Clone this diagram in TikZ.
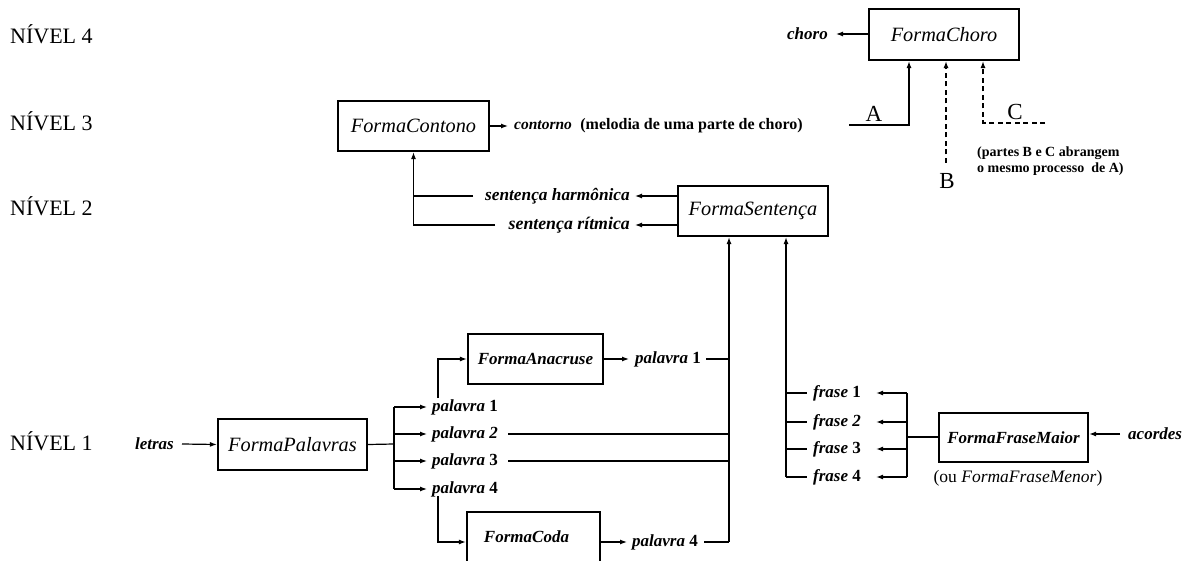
\documentclass[tikz,border=0pt]{standalone}
\usepackage{fontspec}
\setmainfont{Liberation Serif}
\usetikzlibrary{arrows.meta}
\begin{document}
\begin{tikzpicture}[x=1pt,y=-1pt,
  fbox/.style={draw,line width=2.2pt,inner sep=0pt,font=\itshape\fontsize{20.3}{23}\selectfont},
  fboxb/.style={draw,line width=2.2pt,inner sep=0pt,font=\bfseries\itshape\fontsize{17}{19}\selectfont},
  conn/.style={line width=1.2pt},
  arr/.style={conn,-{Latex[length=7pt,width=5pt]}},
  dconn/.style={line width=1.2pt,dash pattern=on 5pt off 3.5pt},
  darr/.style={dconn,-{Latex[length=7pt,width=5pt]}},
  lvl/.style={font=\fontsize{22}{24}\selectfont,inner sep=0pt},
  lbl/.style={font=\bfseries\itshape\fontsize{17}{19}\selectfont,inner sep=0pt},
  big/.style={font=\fontsize{23}{25}\selectfont,inner sep=0pt},
  note/.style={font=\bfseries\fontsize{14}{16}\selectfont,inner sep=0pt,align=left}
]
\useasboundingbox (0,0) rectangle (1192,561);
% level labels
\node[lvl,anchor=west] (n4) at (10,34) {NÍVEL 4};
\node[lvl,anchor=west] (n3) at (10,121) {NÍVEL 3};
\node[lvl,anchor=west] (n2) at (10,206) {NÍVEL 2};
\node[lvl,anchor=west] (n1) at (10,441) {NÍVEL 1};
% level 4
\node[fbox,minimum width=150,minimum height=51] (choro) at (944,34.5) {FormaChoro};
\node[lbl,anchor=east] (chorolbl) at (828,34) {choro};
\draw[arr] (choro.west |- chorolbl) -- ([xshift=8]chorolbl.east);
\coordinate (Aend) at (849,125);
\coordinate (Acor) at (909,125);
\draw[arr] (Aend) -- (Acor) -- (Acor |- choro.south);
\node[big,anchor=base] (A) at (874,122) {A};
\coordinate (Bend) at (946,163);
\draw[darr] (Bend) -- (Bend |- choro.south);
\node[big] (B) at (947,181) {B};
\coordinate (Cend) at (1045,123);
\coordinate (Ccor) at (983,123);
\draw[darr] (Cend) -- (Ccor) -- (Ccor |- choro.south);
\node[big,anchor=base] (C) at (1015,120) {C};
\node[note,anchor=west] (note1) at (977,153) {(partes B e C abrangem};
\node[note,anchor=west] (note2) at (977,169) {o mesmo processo\ \ de A)};
% level 3
\node[fbox,minimum width=151,minimum height=50] (cont) at (413.5,126) {FormaContono};
\node[lbl,anchor=west] (contlbl) at (514,126) {{\fontsize{15.5}{18}\selectfont contorno}\ \ \textup{\fontsize{16}{19}\selectfont(melodia de uma parte de choro)}};
\draw[arr] (cont.east) -- ([xshift=-6]contlbl.west);
% level 2
\node[fbox,minimum width=150,minimum height=50] (sent) at (753,211) {FormaSentença};
\node[lbl,anchor=east,font=\bfseries\itshape\fontsize{17.3}{20}\selectfont] (harm) at (630,196) {sentença harmônica};
\node[lbl,anchor=east,font=\bfseries\itshape\fontsize{17.8}{20}\selectfont] (rit) at (630,225) {sentença rítmica};
\draw[arr] (sent.west |- harm) -- ([xshift=5]harm.east);
\draw[arr] (sent.west |- rit) -- ([xshift=5]rit.east);
\coordinate (harmEnd) at (473,196);
\coordinate (ritEnd) at (495,225);
\draw[conn] (harmEnd) -- (cont.south |- harmEnd);
\draw[arr] (ritEnd) -- (cont.south |- ritEnd) -- (cont.south);
% level 1
\node[fbox,minimum width=149,minimum height=51] (pal) at (292.5,444.5) {FormaPalavras};
\node[lbl,anchor=east] (letras) at (174,444) {letras};
\draw[arr] ([xshift=8]letras.east) -- (pal.west);
\coordinate (bus) at (394,444);
\draw[conn] (pal.east) -- (bus);
\node[lbl,anchor=west] (p1) at (432,407) {palavra\ \textup{1}};
\node[lbl,anchor=west] (p2) at (432,434) {palavra\ 2};
\node[lbl,anchor=west] (p3) at (432,461) {palavra\ \textup{3}};
\node[lbl,anchor=west] (p4) at (432,489) {palavra\ \textup{4}};
\draw[conn] (bus |- p1) -- (bus |- p4);
\foreach \p in {p1,p2,p3,p4} \draw[arr] (bus |- \p) -- ([xshift=-5]\p.west);
% anacruse
\node[fboxb,minimum width=135,minimum height=50] (ana) at (535.5,359) {FormaAnacruse};
\coordinate (anaStart) at (438,398);
\draw[arr] (anaStart) -- (anaStart |- ana) -- (ana.west);
\node[lbl,anchor=west] (pa1) at (635,359) {palavra\ \textup{1}};
\draw[arr] (ana.east) -- ([xshift=-6]pa1.west);
% coda
\node[fboxb,minimum width=133,minimum height=52] (coda) at (533.5,538) {};
\node[fboxb,draw=none] (codatxt) at (526.5,537) {FormaCoda};
\coordinate (codaStart) at (438,496);
\coordinate (codaCor) at (438,542);
\draw[arr] (codaStart) -- (codaCor) -- (coda.west |- codaCor);
\node[lbl,anchor=west] (pa4) at (632,542) {palavra\ \textup{4}};
\draw[arr] (coda.east |- pa4) -- ([xshift=-5]pa4.west);
% trunk 1 into sentenca
\coordinate (t1) at (729,542);
\draw[conn] ([xshift=5]pa1.east) -- (pa1 -| t1);
\draw[conn] ([xshift=6]pa4.east) -- (t1);
\draw[conn] ([xshift=10]p2.east) -- (p2 -| t1);
\draw[conn] ([xshift=10]p3.east) -- (p3 -| t1);
\draw[arr] (t1) -- (t1 |- sent.south);
% frases
\node[lbl,anchor=west] (f1) at (813,393) {frase\ \textup{1}};
\node[lbl,anchor=west] (f2) at (813,422) {frase\ 2};
\node[lbl,anchor=west] (f3) at (813,449) {frase\ \textup{3}};
\node[lbl,anchor=west] (f4) at (813,477) {frase\ \textup{4}};
\coordinate (t2) at (786,477);
\draw[arr] (t2) -- (t2 |- sent.south);
\foreach \f in {f1,f2,f3,f4} \draw[conn] (t2 |- \f) -- ([xshift=-6]\f.west);
\node[fboxb,minimum width=149,minimum height=49] (fm) at (1013.5,437.5) {FormaFraseMaior};
\node[font=\fontsize{17.5}{19}\selectfont,inner sep=0pt] (fmen) at (1018,478) {(ou \textit{FormaFraseMenor})};
\coordinate (fbus) at (907,437);
\draw[conn] (fm.west |- fbus) -- (fbus);
\draw[conn] (fbus |- f1) -- (fbus |- f4);
\foreach \f in {f1,f2,f3,f4} \draw[arr] (fbus |- \f) -- ([xshift=15]\f.east);
\node[lbl,anchor=west] (acordes) at (1128,434) {acordes};
\draw[arr] ([xshift=-8]acordes.west) -- (fm.east |- acordes);
\end{tikzpicture}
\end{document}
